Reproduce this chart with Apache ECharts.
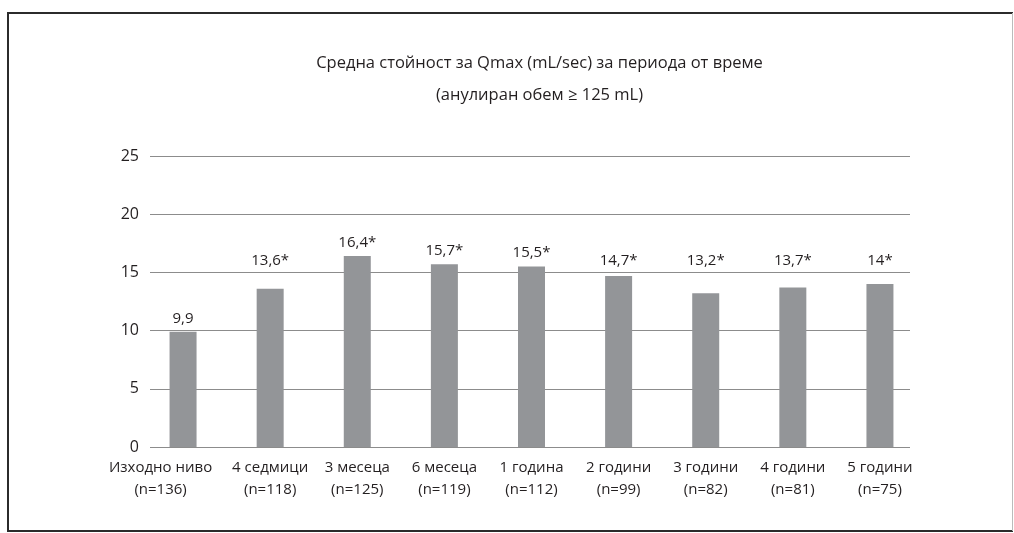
<!DOCTYPE html>
<html>
<head>
<meta charset="utf-8">
<script src="https://cdn.jsdelivr.net/npm/echarts@6/dist/echarts.min.js"></script>
<style>
  html, body { margin: 0; padding: 0; background: #fff; }
  #chart { width: 1014px; height: 533px; }
</style>
</head>
<body>
<div id="chart"></div>
<script>
// Periods and sample sizes
const periods = ['Изходно ниво', '4 седмици', '3 месеца', '6 месеца', '1 година', '2 години', '3 години', '4 години', '5 години'];
const sampleSizes = [136, 118, 125, 119, 112, 99, 82, 81, 75];
// Mean Qmax (mL/sec)
const qmaxValues = [9.9, 13.6, 16.4, 15.7, 15.5, 14.7, 13.2, 13.7, 14];
// Significance markers
const significant = [false, true, true, true, true, true, true, true, true];
// Value axis ticks
const yTicks = [0, 5, 10, 15, 20, 25];
// Title lines
const titleLines = ['Средна стойност за Qmax (mL/sec) за периода от време', '(анулиран обем ≥ 125 mL)'];

const textColor = '#231f20';
const fontFamily = '"Open Sans", "Noto Sans", sans-serif';

const categories = periods.map((p, i) => p + '\n(n=' + sampleSizes[i] + ')');
const valueLabels = qmaxValues.map((v, i) => String(v).replace('.', ',') + (significant[i] ? '*' : ''));

const chart = echarts.init(document.getElementById('chart'), null, { renderer: 'canvas' });

function buildOption(labelOffsets) {
  return {
    backgroundColor: '#fff',
    animation: false,
    textStyle: { fontFamily: fontFamily },
    graphic: [
      // frame
      { type: 'line', shape: { x1: 7, y1: 13, x2: 1013, y2: 13 }, style: { stroke: '#2b2b2b', lineWidth: 2 } },
      { type: 'line', shape: { x1: 8, y1: 12, x2: 8, y2: 532 }, style: { stroke: '#2b2b2b', lineWidth: 2 } },
      { type: 'line', shape: { x1: 7, y1: 531, x2: 1013, y2: 531 }, style: { stroke: '#2b2b2b', lineWidth: 2 } },
      { type: 'line', shape: { x1: 1012.5, y1: 13, x2: 1012.5, y2: 531 }, style: { stroke: '#bbbbbb', lineWidth: 1 } },
      // two-line title
      ...titleLines.map((t, i) => ({
        type: 'text',
        x: 539.5,
        y: 63 + i * 32,
        style: {
          text: t,
          fill: textColor,
          font: '16.5px ' + fontFamily,
          textAlign: 'center',
          textVerticalAlign: 'middle'
        }
      }))
    ],
    grid: [
      { left: 150, right: 104, top: 156, bottom: 86 },
      { left: 139.5, width: 784, top: 156, bottom: 86 }
    ],
    xAxis: [
      { gridIndex: 0, type: 'category', data: categories, show: false },
      {
        gridIndex: 1,
        type: 'category',
        data: categories,
        axisLine: { show: false },
        axisTick: { show: false },
        axisLabel: {
          interval: 0,
          margin: 10,
          fontSize: 15,
          lineHeight: 22,
          color: textColor,
          fontFamily: fontFamily,
          // the first, longest label sits slightly left of its bar
          formatter: (value, idx) => {
            if (idx === 0) {
              return value.split('\n').map(s => '{lead|' + s + '}').join('\n');
            }
            return value;
          },
          rich: {
            lead: {
              fontSize: 15,
              lineHeight: 22,
              color: textColor,
              fontFamily: fontFamily,
              padding: [0, 45, 0, 0]
            }
          }
        }
      }
    ],
    yAxis: [
      {
        gridIndex: 0,
        type: 'value',
        min: yTicks[0],
        max: yTicks[yTicks.length - 1],
        interval: yTicks[1] - yTicks[0],
        axisLine: { show: false },
        axisTick: { show: false },
        splitLine: { show: true, lineStyle: { color: '#8c8c8c', width: 1 } },
        axisLabel: { margin: 11, fontSize: 16, color: textColor, fontFamily: fontFamily }
      },
      {
        gridIndex: 1,
        type: 'value',
        min: yTicks[0],
        max: yTicks[yTicks.length - 1],
        show: false,
        splitLine: { show: false }
      }
    ],
    series: [
      {
        type: 'bar',
        xAxisIndex: 1,
        yAxisIndex: 1,
        data: qmaxValues.map((v, i) => ({
          value: v,
          label: { offset: [0, -(labelOffsets[i] || 0)] }
        })),
        barWidth: 27,
        itemStyle: { color: '#939598' },
        label: {
          show: true,
          position: 'top',
          distance: 6,
          fontSize: 15,
          color: textColor,
          fontFamily: fontFamily,
          formatter: (p) => valueLabels[p.dataIndex]
        }
      }
    ]
  };
}

chart.setOption(buildOption([]));

// Labels of lower bars are lifted to a common row
const labelRowY = 260;
const offsets = qmaxValues.map(v => {
  const barTop = chart.convertToPixel({ yAxisIndex: 1 }, v);
  const labelCenter = barTop - 14;
  return labelCenter > labelRowY ? labelCenter - labelRowY : 0;
});
offsets[0] = 0;
chart.setOption(buildOption(offsets));
</script>
</body>
</html>
